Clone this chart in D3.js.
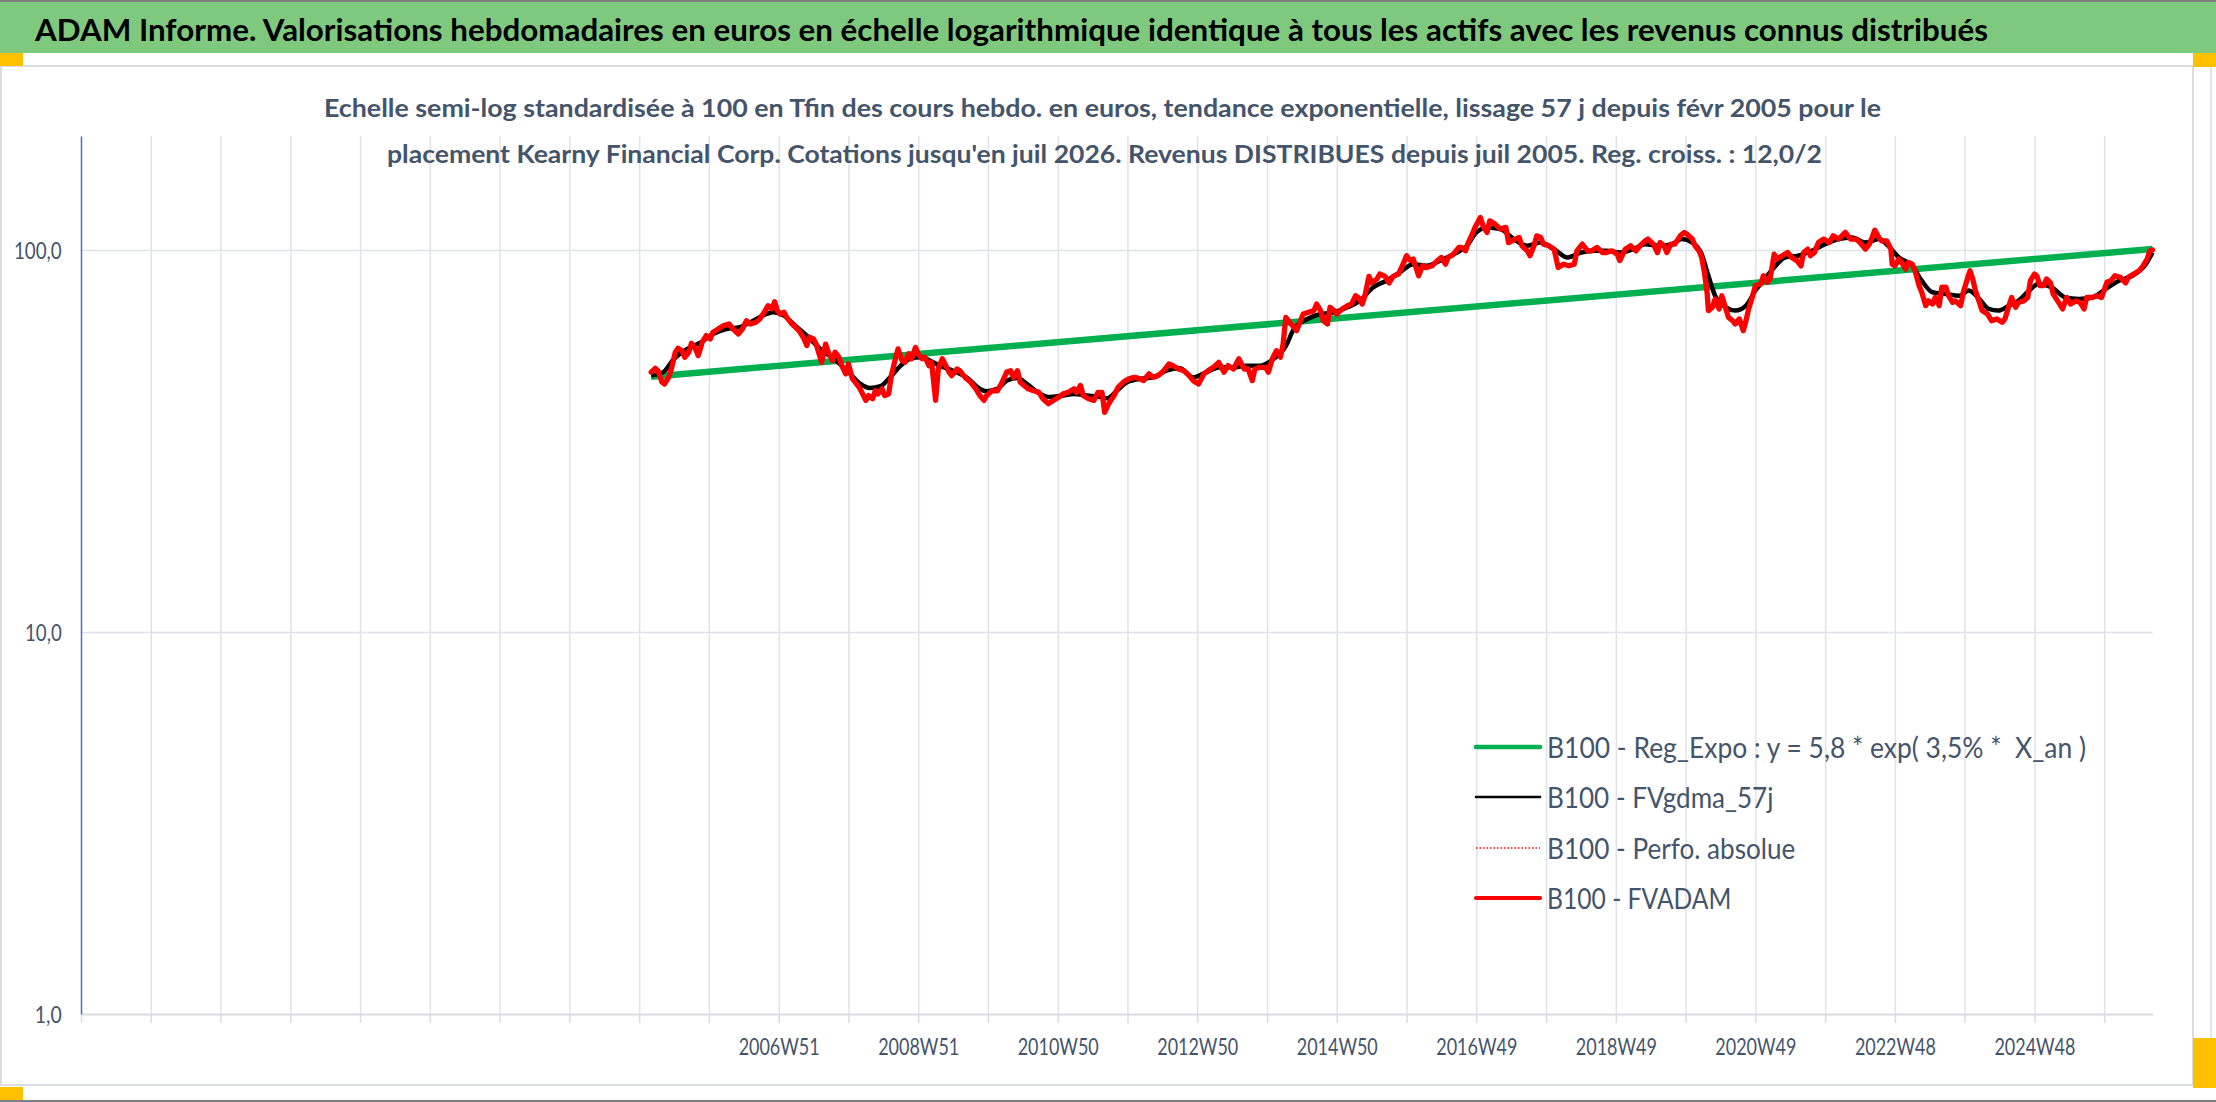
<!DOCTYPE html>
<html><head><meta charset="utf-8">
<script src="https://cdn.jsdelivr.net/npm/d3@7"></script>
<style>html,body{margin:0;padding:0;background:#fff;overflow:hidden}svg{display:block}</style>
</head><body>
<svg id="c" width="2216" height="1102"></svg>
<script>
// ---------------- DATA ----------------
const headerTitle = "ADAM Informe. Valorisations hebdomadaires en euros en échelle logarithmique identique à tous les actifs avec les revenus connus distribués";
const subtitleLines = [
  "Echelle semi-log standardisée à 100 en Tfin des cours hebdo. en euros, tendance exponentielle, lissage 57 j depuis févr 2005 pour le",
  "placement Kearny Financial Corp. Cotations jusqu'en juil 2026. Revenus DISTRIBUES depuis juil 2005. Reg. croiss. : 12,0/2"
];
const nWeeks = 1544;              // weekly categories on the axis (index 0 .. 1544)
const gridWeeks = [0,52,104,156,208,260,312,364,416,468,520,572,624,676,728,780,832,884,936,988,1040,1092,1144,1196,1248,1300,1352,1404,1456,1508];
const xTickWeeks = [520,624,728,832,936,1040,1144,1248,1352,1456];
const xTickLabels = ["2006W51","2008W51","2010W50","2012W50","2014W50","2016W49","2018W49","2020W49","2022W48","2024W48"];
const yTicks = [1,10,100];
const yTickLabels = ["1,0","10,0","100,0"];
const yMin = 1, yMax = 198.8;

const legendLabels = [
  "B100 - Reg_Expo : y = 5,8 * exp( 3,5% *  X_an )",
  "B100 - FVgdma_57j",
  "B100 - Perfo. absolue",
  "B100 - FVADAM"
];

// [week index, value]
const regExpo = [[425,46.6],[1544,100.6]];

const fvgdma = [[425,46.9],[434,47.9],[442,51.9],[452,55.1],[462,57.3],[471,60.3],[481,62.1],[491,62.8],[501,65.3],[511,68.0],[516,68.7],[524,67.3],[531,64.0],[541,59.7],[551,55.1],[561,51.9],[571,48.3],[581,44.6],[588,43.5],[596,44.0],[603,46.4],[611,49.8],[618,51.9],[626,52.4],[633,51.3],[640,49.8],[650,48.3],[660,46.4],[670,43.3],[675,42.7],[683,43.3],[690,45.5],[698,46.2],[705,44.6],[715,42.0],[722,41.2],[732,41.6],[740,42.0],[750,41.6],[760,41.2],[765,40.9],[772,42.8],[780,45.1],[790,46.0],[799,46.4],[809,48.3],[819,49.0],[829,46.4],[839,47.9],[849,49.3],[859,49.3],[869,49.8],[879,49.8],[889,51.9],[898,56.0],[904,62.1],[914,66.0],[924,68.0],[934,68.7],[944,70.8],[953,73.6],[963,79.8],[973,83.1],[983,87.4],[993,91.8],[1003,90.9],[1013,93.8],[1023,97.5],[1033,102.6],[1040,111.2],[1048,114.6],[1058,113.4],[1068,106.8],[1078,102.6],[1088,104.6],[1098,100.5],[1108,95.6],[1118,98.5],[1128,99.5],[1137,99.5],[1147,98.5],[1157,100.5],[1166,103.6],[1176,102.6],[1186,103.6],[1193,106.8],[1201,104.6],[1208,97.5],[1213,85.6],[1218,75.9],[1226,70.8],[1233,69.4],[1241,71.5],[1248,78.3],[1255,84.0],[1263,90.9],[1270,95.6],[1280,96.6],[1290,99.5],[1300,103.6],[1310,106.8],[1320,107.9],[1330,104.6],[1340,106.8],[1347,102.6],[1355,95.6],[1365,90.9],[1372,83.1],[1380,77.5],[1390,76.7],[1400,75.9],[1407,78.3],[1415,74.4],[1422,70.1],[1429,69.4],[1437,71.5],[1444,73.6],[1452,78.3],[1459,81.5],[1469,79.8],[1479,75.1],[1489,74.4],[1499,75.1],[1509,79.0],[1519,83.1],[1529,85.6],[1539,91.8],[1544,98.5]];

const fvadam = [[425,47.9],[428,49.0],[430,48.3],[433,45.1],[435,44.6],[438,46.4],[440,48.8],[443,54.0],[445,55.3],[448,54.5],[450,52.4],[453,54.0],[455,57.0],[458,55.1],[460,52.9],[463,57.3],[466,59.7],[469,58.5],[471,60.9],[475,62.1],[479,63.4],[483,64.0],[486,62.1],[490,60.3],[493,62.1],[496,65.3],[499,64.0],[503,64.7],[506,66.0],[510,69.4],[512,71.5],[515,70.1],[517,73.2],[519,69.4],[521,68.0],[524,68.7],[526,66.6],[530,64.0],[534,62.1],[536,60.9],[539,58.5],[541,56.2],[543,59.1],[546,58.5],[548,56.7],[552,50.8],[555,56.7],[557,54.0],[560,51.3],[562,54.0],[565,52.4],[567,49.8],[570,47.4],[572,50.3],[575,46.0],[577,45.1],[580,43.7],[582,42.4],[585,40.4],[587,41.6],[590,40.8],[592,42.8],[594,42.0],[597,43.3],[599,41.6],[602,42.0],[604,46.9],[607,51.9],[609,55.1],[612,51.3],[614,50.8],[617,53.5],[619,51.9],[622,55.6],[624,53.5],[627,51.9],[629,52.4],[632,49.8],[634,50.8],[637,40.4],[639,48.8],[642,51.9],[644,50.3],[647,47.9],[649,46.9],[653,48.8],[655,48.3],[659,46.4],[663,45.1],[667,43.3],[670,41.6],[673,40.4],[675,41.6],[679,42.8],[683,42.8],[686,44.6],[690,47.9],[693,48.3],[695,46.4],[698,48.3],[700,45.1],[703,44.2],[706,43.3],[710,42.8],[714,42.4],[717,40.8],[721,39.6],[725,40.4],[729,41.2],[732,42.0],[736,42.4],[740,43.3],[742,42.4],[745,44.2],[747,41.6],[751,40.8],[755,40.4],[758,42.4],[761,42.4],[763,37.6],[766,39.6],[770,41.6],[773,43.7],[777,45.1],[781,46.0],[785,46.4],[788,46.2],[792,45.5],[796,47.4],
[799,46.4],[803,46.9],[807,48.3],[811,50.3],[814,49.8],[818,48.8],[822,48.3],[826,46.9],[829,45.5],[833,44.6],[837,47.4],[840,48.3],[844,49.3],[848,50.8],[852,47.9],[855,49.8],[859,48.8],[863,51.9],[867,48.8],[870,48.8],[873,45.5],[875,48.8],[879,49.3],[883,49.3],[885,47.9],[888,51.9],[891,54.5],[894,52.4],[896,56.7],[898,66.6],[900,65.3],[903,63.4],[906,61.5],[909,65.3],[911,68.0],[915,68.7],[919,69.4],[921,72.2],[924,69.4],[926,65.3],[929,64.0],[931,70.8],[934,69.4],[936,68.0],[940,70.1],[944,71.5],[947,72.2],[950,75.9],[952,75.1],[955,72.2],[957,75.9],[960,85.3],[962,82.0],[966,84.0],[968,86.5],[972,85.3],[975,82.0],[978,85.3],[982,86.5],[986,92.8],[988,96.6],[991,93.8],[993,94.7],[997,85.6],[1000,90.9],[1003,90.0],[1007,90.9],[1011,93.8],[1014,95.6],[1017,91.8],[1019,95.6],[1023,97.5],[1027,101.6],[1029,101.6],[1032,99.5],[1034,104.6],[1037,110.0],[1039,114.6],[1043,121.7],[1045,115.7],[1048,111.2],[1050,119.2],[1054,116.9],[1058,113.4],[1062,114.6],[1064,104.6],[1067,105.7],[1069,106.8],[1072,107.9],[1074,102.6],[1078,99.5],[1080,96.6],[1083,102.6],[1085,108.9],[1088,107.9],[1090,103.6],[1094,102.6],[1098,100.5],[1101,90.0],[1105,91.8],[1109,90.9],[1113,91.8],[1115,99.5],[1119,103.6],[1123,99.5],[1126,99.5],[1130,101.6],[1134,98.5],[1137,98.5],[1141,99.5],[1145,97.5],[1147,93.8],[1151,100.5],[1155,102.6],[1159,99.5],[1162,102.6],[1166,105.7],
[1168,106.8],[1172,103.6],[1175,98.5],[1177,104.6],[1180,102.6],[1182,98.5],[1185,103.6],[1188,103.6],[1192,108.9],[1195,111.2],[1197,110.0],[1201,106.8],[1203,102.6],[1206,99.5],[1208,95.6],[1210,87.4],[1212,77.5],[1213,69.4],[1216,70.8],[1218,74.4],[1221,70.1],[1223,75.9],[1226,70.1],[1228,66.6],[1231,65.3],[1233,64.0],[1236,66.0],[1239,61.5],[1241,65.3],[1243,70.1],[1246,75.9],[1248,80.7],[1252,81.5],[1254,85.6],[1257,82.3],[1259,84.0],[1262,97.5],[1264,94.7],[1268,96.6],[1272,98.5],[1275,95.6],[1279,93.8],[1282,90.9],[1284,98.5],[1287,100.5],[1289,96.6],[1292,98.5],[1295,104.6],[1299,106.8],[1303,104.6],[1306,108.9],[1310,106.8],[1315,111.2],[1319,106.8],[1323,106.8],[1326,104.6],[1330,100.5],[1333,103.6],[1335,107.9],[1337,112.7],[1340,107.9],[1342,105.7],[1346,105.7],[1349,100.5],[1350,91.8],[1352,90.9],[1355,94.7],[1357,92.8],[1360,89.1],[1362,92.8],[1365,91.8],[1367,88.2],[1370,80.7],[1372,77.5],[1375,71.5],[1377,73.6],[1380,72.2],[1382,75.1],[1385,71.5],[1387,79.9],[1390,79.9],[1392,75.9],[1395,72.9],[1397,73.6],[1401,71.5],[1403,77.5],[1406,84.0],[1408,88.2],[1410,84.0],[1412,78.3],[1415,72.9],[1417,69.4],[1421,68.0],[1424,65.3],[1428,66.0],[1432,64.7],[1434,66.0],[1437,71.5],[1439,75.1],[1442,70.8],[1444,72.9],[1448,73.6],[1451,75.1],[1453,83.1],[1456,86.5],[1458,85.3],[1460,80.7],[1463,80.7],[1465,84.0],[1468,82.0],[1470,76.7],[1474,72.9],[1477,70.1],[1480,75.1],[1483,72.2],[1487,73.6],[1490,72.9],[1493,70.1],[1495,75.1],[1499,75.1],[1503,75.9],[1506,75.1],[1510,82.3],[1513,83.1],[1516,85.6],[1520,84.8],[1524,82.0],[1526,84.8],[1530,86.5],[1534,88.2],[1537,90.9],[1540,94.7],[1542,99.5],[1544,100.0]];

const perfoAbsolue = fvadam; // drawn beneath FVADAM (coincident)

// ---------------- LAYOUT / STYLE ----------------
const W = 2216, H = 1102;
const plot = {left: 81, right: 2152.5, top: 136, bottom: 1014};
const FONT = "Lato, 'Open Sans', 'DejaVu Sans', sans-serif";
const TEXT = "#44546A";
const GRID = "#DFE2E8";

const svg = d3.select("#c");

// frame decorations
svg.append("rect").attr("x",0).attr("y",0).attr("width",W).attr("height",H).attr("fill","#fff");
svg.append("rect").attr("x",0).attr("y",2).attr("width",W).attr("height",51).attr("fill","#7FC97F");
svg.append("rect").attr("x",0).attr("y",0).attr("width",W).attr("height",2).attr("fill","#7f7f7f");
svg.append("rect").attr("x",0).attr("y",H-2).attr("width",W).attr("height",2).attr("fill","#7f7f7f");
svg.append("rect").attr("x",1).attr("y",66).attr("width",2192).attr("height",1019)
  .attr("fill","none").attr("stroke","#DADDE3").attr("stroke-width",2);
svg.append("rect").attr("x",0).attr("y",53).attr("width",23).attr("height",13).attr("fill","#FFC000");
svg.append("rect").attr("x",2193).attr("y",53).attr("width",23).attr("height",14).attr("fill","#FFC000");
svg.append("rect").attr("x",0).attr("y",1087).attr("width",23).attr("height",13).attr("fill","#FFC000");
svg.append("rect").attr("x",2193).attr("y",1038).attr("width",23).attr("height",50).attr("fill","#FFC000");
svg.append("line").attr("x1",2211).attr("x2",2211).attr("y1",67).attr("y2",1038).attr("stroke","#DADDE3").attr("stroke-width",1.5);

// scales
const x = d3.scaleLinear().domain([0, nWeeks]).range([plot.left, plot.right]);
const y = d3.scaleLog().domain([yMin, yMax]).range([plot.bottom, plot.top]);

// vertical gridlines
const gx = svg.append("g").attr("transform",`translate(0,${plot.bottom})`)
  .call(d3.axisBottom(x).tickValues(gridWeeks.filter(w=>w>0)).tickSize(-(plot.bottom-plot.top)).tickSizeOuter(0).tickFormat(""));
gx.select(".domain").remove();
gx.selectAll("line").attr("stroke",GRID).attr("stroke-width",1.5);

// horizontal gridlines
const gy = svg.append("g").attr("transform",`translate(${plot.left},0)`)
  .call(d3.axisLeft(y).tickValues(yTicks.filter(v=>v>yMin)).tickSize(-(plot.right-plot.left)).tickSizeOuter(0).tickFormat(""));
gy.select(".domain").remove();
gy.selectAll("line").attr("stroke",GRID).attr("stroke-width",1.5);

// bottom axis with tick marks
const ax = svg.append("g").attr("transform",`translate(0,${plot.bottom})`)
  .call(d3.axisBottom(x).tickValues(gridWeeks).tickSize(9).tickSizeOuter(0).tickFormat(""));
ax.select(".domain").attr("stroke","#D9DCE2").attr("stroke-width",2);
ax.selectAll("line").attr("stroke","#D9DCE2").attr("stroke-width",1.5);

// bottom labels
const axl = svg.append("g").attr("transform",`translate(0,${plot.bottom})`)
  .call(d3.axisBottom(x).tickValues(xTickWeeks).tickSize(0).tickFormat((d,i)=>xTickLabels[i]));
axl.select(".domain").remove();
axl.selectAll("text").attr("y",41).attr("dy",0)
  .attr("font-family",FONT).attr("font-size",23).attr("fill",TEXT)
  .attr("textLength",81).attr("lengthAdjust","spacingAndGlyphs");

// left axis
const yLabelW = {"1,0":27,"10,0":36.7,"100,0":47.7};
const ay = svg.append("g").attr("transform",`translate(${plot.left},0)`)
  .call(d3.axisLeft(y).tickValues(yTicks).tickSize(0).tickSizeOuter(0).tickPadding(19.3).tickFormat((d,i)=>yTickLabels[i]));
ay.select(".domain").attr("stroke","#4472C4").attr("stroke-width",1.5);
ay.selectAll("text").attr("dy","0.37em")
  .attr("font-family",FONT).attr("font-size",22.3).attr("fill",TEXT)
  .each(function(d,i){ d3.select(this).attr("textLength",yLabelW[yTickLabels[i]]).attr("lengthAdjust","spacingAndGlyphs"); });

// series
const line = d3.line().x(d=>x(d[0])).y(d=>y(d[1]));
svg.append("path").datum(regExpo).attr("d",line).attr("fill","none")
  .attr("stroke","#00B050").attr("stroke-width",6.5);
svg.append("path").datum(fvgdma).attr("d",line.curve(d3.curveMonotoneX)).attr("fill","none")
  .attr("stroke","#000").attr("stroke-width",4.5).attr("stroke-linejoin","round");
line.curve(d3.curveLinear);
svg.append("path").datum(perfoAbsolue).attr("d",line).attr("fill","none")
  .attr("stroke","#FF0000").attr("stroke-width",1.5).attr("stroke-dasharray","1.5,2.5");
svg.append("path").datum(fvadam).attr("d",line).attr("fill","none")
  .attr("stroke","#FF0000").attr("stroke-width",5.3).attr("stroke-linejoin","round").attr("stroke-linecap","round");

// legend
const legendStyles = [
  {stroke:"#00B050", w:4.7, dash:null},
  {stroke:"#000000", w:2.7, dash:null},
  {stroke:"#FF0000", w:1.4, dash:"1.5,2"},
  {stroke:"#FF0000", w:4.2, dash:null}
];
const legendTextW = [539, 226.5, 248.3, 184.4];
const legY = [747, 797, 848, 898];
const lg = svg.append("g");
legendLabels.forEach((lab,i)=>{
  const s = legendStyles[i];
  const l = lg.append("line").attr("x1",1476).attr("x2",1540).attr("y1",legY[i]).attr("y2",legY[i])
    .attr("stroke",s.stroke).attr("stroke-width",s.w).attr("stroke-linecap", s.dash? "butt":"round");
  if (s.dash) l.attr("stroke-dasharray",s.dash);
  lg.append("text").attr("x",1547).attr("y",legY[i]+10.5).text(lab)
    .attr("font-family",FONT).attr("font-size",28).attr("fill",TEXT)
    .attr("textLength",legendTextW[i]).attr("lengthAdjust","spacingAndGlyphs").style("white-space","pre");
});

// titles
svg.append("text").attr("x",35).attr("y",40.7).text(headerTitle)
  .attr("font-family",FONT).attr("font-weight",700).attr("font-size",31).attr("fill","#000")
  .attr("textLength",1953).attr("lengthAdjust","spacingAndGlyphs");
const subX = [324, 387], subY = [117.3, 163.3], subW = [1557, 1435];
subtitleLines.forEach((t,i)=>{
  svg.append("text").attr("x",subX[i]).attr("y",subY[i]).text(t)
    .attr("font-family",FONT).attr("font-weight",700).attr("font-size",24.5).attr("fill",TEXT)
    .attr("textLength",subW[i]).attr("lengthAdjust","spacingAndGlyphs");
});
</script>
</body></html>
